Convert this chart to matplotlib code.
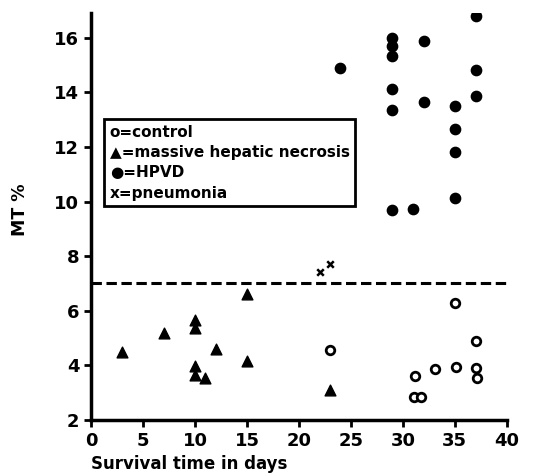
import matplotlib.pyplot as plt

# control (open circles)
ctrl_x = [23, 31.2, 31.1, 31.7, 33.1, 35, 35.1, 37, 37, 37.1]
ctrl_y = [4.56, 3.62, 2.85, 2.85, 3.85, 6.27, 3.95, 4.89, 3.91, 3.53]

# massive hepatic necrosis (triangles)
mhn_x = [3, 7, 10, 10, 10, 10, 11, 12, 15, 15, 23]
mhn_y = [4.5, 5.19, 5.66, 5.36, 3.98, 3.65, 3.54, 4.6, 6.6, 4.16, 3.1]

# HPVD (filled circles)
hpvd_x = [24, 29, 29, 29, 29, 29, 29, 31, 32, 32, 35, 35, 35, 35, 37, 37, 37]
hpvd_y = [14.9, 16.0, 15.7, 15.34, 14.12, 13.36, 9.7, 9.74, 15.86, 13.64,
          13.51, 12.66, 11.81, 10.14, 16.78, 14.82, 13.88]

# pneumonia (x)
pn_x = [22, 23]
pn_y = [7.42, 7.7]

threshold = 7.0

xticks = [0, 5, 10, 15, 20, 25, 30, 35, 40]
yticks = [2, 4, 6, 8, 10, 12, 14, 16]

fig = plt.figure(figsize=(5.42, 4.76), dpi=100)
ax = fig.add_axes([0.168, 0.1176, 0.767, 0.855])

ax.scatter(hpvd_x, hpvd_y, s=55, c="black", marker="o", zorder=3)
ax.scatter(mhn_x, mhn_y, s=60, c="black", marker="^", zorder=3)
ax.scatter(ctrl_x, ctrl_y, s=38, facecolors="white", edgecolors="black",
           linewidths=2, marker="o", zorder=3)
ax.scatter(pn_x, pn_y, s=22, c="black", marker="x", linewidths=1.8, zorder=3)

ax.plot([0, 40], [threshold, threshold], color="black", linestyle=(0, (3.4, 1.5)),
        linewidth=2.2)

ax.set_xlim(0, 40)
ax.set_ylim(2, 16.9)
ax.spines["top"].set_visible(False)
ax.spines["right"].set_visible(False)
ax.spines["left"].set_linewidth(2.5)
ax.spines["bottom"].set_linewidth(2.5)
ax.set_xticks(xticks)
ax.set_yticks(yticks)
ax.tick_params(axis="both", direction="out", width=2, length=5, labelsize=13)
for lbl in ax.get_xticklabels() + ax.get_yticklabels():
    lbl.set_fontweight("bold")

fig.text(0.037, 0.559, "MT %", rotation=90, ha="center", va="center",
         fontsize=12.5, fontweight="bold")
fig.text(0.168, 0.025, "Survival time in days", ha="left", va="center",
         fontsize=12, fontweight="bold")

# legend drawn as a boxed text block, like the original
legend_txt = "o=control\n\u25b2=massive hepatic necrosis\n\u25cf=HPVD\nx=pneumonia"
ax.text(1.8, 11.42, legend_txt, fontsize=11, fontweight="bold", va="center",
        ha="left", linespacing=1.45,
        bbox=dict(boxstyle="square,pad=0.35", facecolor="white",
                  edgecolor="black", linewidth=2))

fig.savefig("out.png", dpi=100)
